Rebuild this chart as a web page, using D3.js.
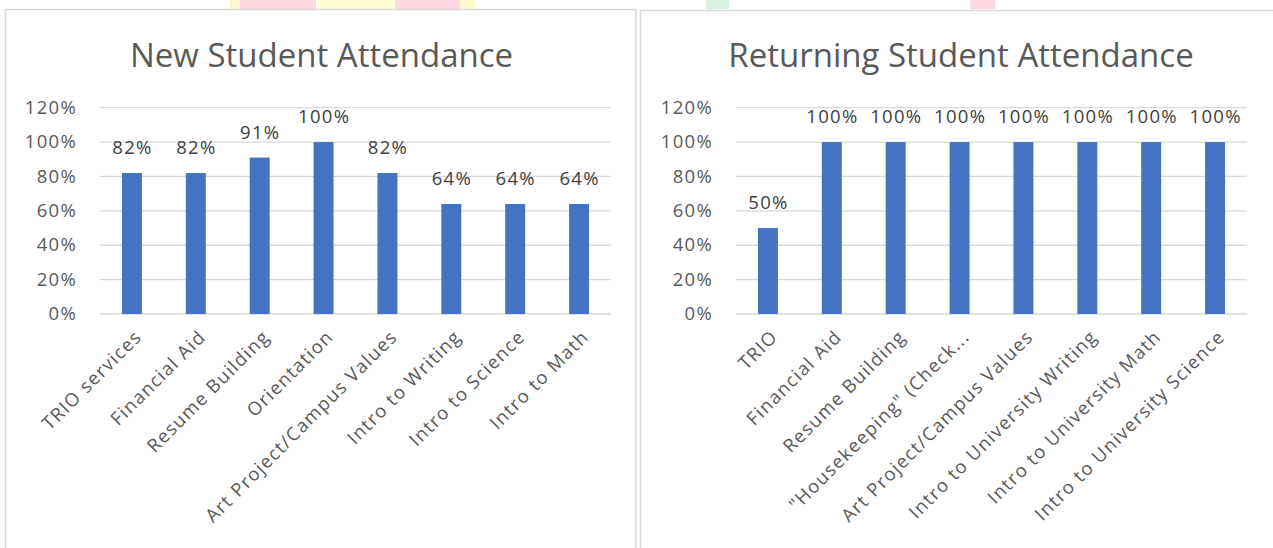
<!DOCTYPE html>
<html><head><meta charset="utf-8">
<script src="https://cdn.jsdelivr.net/npm/d3@7"></script>
<style>body{margin:0;background:#fff} svg{display:block}</style>
</head><body><svg id="c" width="1273" height="548"></svg>
<script>
// ---- data ----
const newCategories = ["TRIO services","Financial Aid","Resume Building","Orientation","Art Project/Campus Values","Intro to Writing","Intro to Science","Intro to Math"];
const newValues = [0.82,0.82,0.91,1.00,0.82,0.64,0.64,0.64];
const retCategories = ["TRIO","Financial Aid","Resume Building","\"Housekeeping\" (Check...","Art Project/Campus Values","Intro to University Writing","Intro to University Math","Intro to University Science"];
const retValues = [0.50,1.00,1.00,1.00,1.00,1.00,1.00,1.00];
const yTicks = [0,0.2,0.4,0.6,0.8,1.0,1.2];
const titles = ["New Student Attendance","Returning Student Attendance"];

const svg = d3.select("#c");
svg.append("rect").attr("width",1273).attr("height",548).attr("fill","#fff");

// faint watermark strips at the top edge
const strips = [[230,240,"#fff8cc"],[240,316,"#ffd9df"],[317,393,"#fffbd2"],[395,460,"#ffd9df"],[460,475,"#fff8cc"],[706,729,"#d6f2de"],[970,995,"#ffd9df"]];
svg.selectAll("rect.strip").data(strips).join("rect").attr("class","strip")
  .attr("x",d=>d[0]).attr("y",0).attr("width",d=>d[1]-d[0]).attr("height",9).attr("fill",d=>d[2]);

const font = "'Open Sans', 'Noto Sans', sans-serif";
const panels = [
  {px:5.5, pw:630.5, py:9.5, r:[100,611], tx:321.5, labelX:77, cats:newCategories, vals:newValues, title:titles[0]},
  {px:640.5, pw:700, py:10.5, r:[736,1247], tx:961, labelX:713, cats:retCategories, vals:retValues, title:titles[1]}
];

const y = d3.scaleLinear().domain([0,1.2]).range([314,107.7]);
const fmt = d3.format(".0%");

panels.forEach(p=>{
  const g = svg.append("g");
  g.append("rect").attr("x",p.px).attr("y",p.py).attr("width",p.pw).attr("height",600)
    .attr("fill","#fff").attr("stroke","#d9d9d9").attr("stroke-width",1.5);
  g.append("text").attr("x",p.tx).attr("y",67).attr("text-anchor","middle")
    .attr("font-family",font).attr("font-size",33).attr("fill","#595959").text(p.title);

  const x = d3.scaleBand().domain(p.cats).range(p.r).paddingInner(0.6875).paddingOuter(0.34375);

  // gridlines
  g.selectAll("line.grid").data(yTicks).join("line").attr("class","grid")
    .attr("x1",p.r[0]).attr("x2",p.r[1]).attr("y1",d=>y(d)).attr("y2",d=>y(d))
    .attr("stroke","#d9d9d9").attr("stroke-width",1.3);
  // y tick labels
  g.selectAll("text.yt").data(yTicks).join("text").attr("class","yt")
    .attr("x",p.labelX).attr("y",d=>y(d)).attr("dy","0.33em").attr("text-anchor","end")
    .attr("font-family",font).attr("font-size",18.5).attr("letter-spacing",1.3).attr("fill","#595959")
    .text(d=>fmt(d));
  // bars
  g.selectAll("rect.bar").data(p.vals).join("rect").attr("class","bar")
    .attr("x",(d,i)=>x(p.cats[i])).attr("width",x.bandwidth())
    .attr("y",d=>y(d)).attr("height",d=>y(0)-y(d)).attr("fill","#4472c4");
  // data labels
  g.selectAll("text.dl").data(p.vals).join("text").attr("class","dl")
    .attr("x",(d,i)=>x(p.cats[i])+x.bandwidth()/2+0.6).attr("y",d=>y(d)-19)
    .attr("text-anchor","middle").attr("font-family",font).attr("font-size",18.5)
    .attr("letter-spacing",1.3).attr("fill","#404040").text(d=>fmt(d));
  // x labels
  g.selectAll("text.xl").data(p.cats).join("text").attr("class","xl")
    .attr("transform",d=>`translate(${x(d)+x.bandwidth()/2+11},338) rotate(-45)`)
    .attr("text-anchor","end").attr("font-family",font).attr("font-size",18.5)
    .attr("letter-spacing",1.3).attr("fill","#595959").text(d=>d);
});
</script></body></html>
